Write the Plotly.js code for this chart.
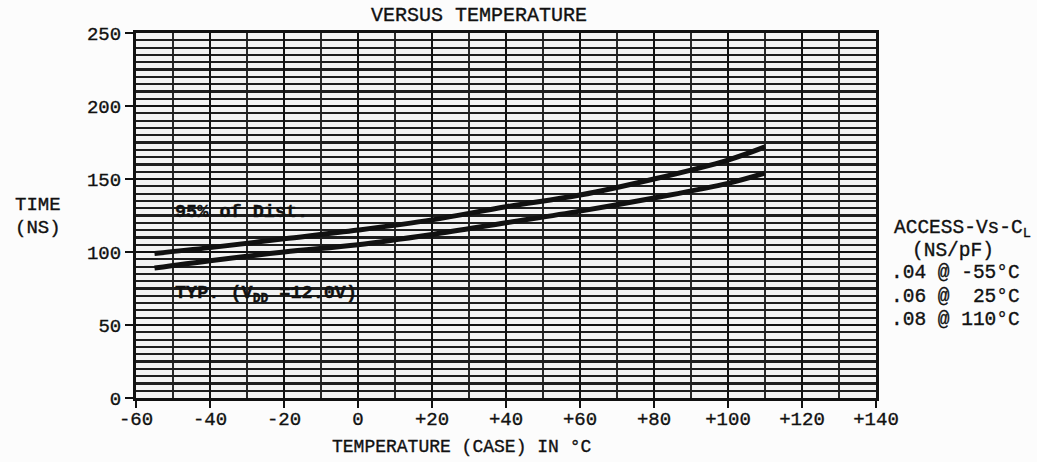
<!DOCTYPE html>
<html>
<head>
<meta charset="utf-8">
<script src="https://cdn.plot.ly/plotly-3.0.1.min.js"></script>
<style>
html,body{margin:0;padding:0;background:#fcfcfc;}
#chart{width:1037px;height:462px;}
#chart svg text{stroke:#111;stroke-width:0.35px;}
</style>
</head>
<body>
<div id="chart"></div>
<script>
// Temperature (case) in °C
const temps = [-55, -40, -20, 0, 20, 40, 60, 80, 100, 110];
// Access time (ns), "95% of Dist." curve
const dist95 = [99, 103, 109, 115, 122, 131, 139, 150, 163, 172];
// Access time (ns), typical curve (VDD = 12.0V)
const typical = [89, 94, 100, 105, 112, 120, 128, 137, 147, 154];

const xTickVals = [-60, -40, -20, 0, 20, 40, 60, 80, 100, 120, 140];
const xTickText = ['-60', '-40', '-20', '0', '+20', '+40', '+60', '+80', '+100', '+120', '+140'];
const yTickVals = [0, 50, 100, 150, 200, 250];

const FONT = 'Liberation Mono, Courier New, monospace';
const INK = '#111';

const traces = [
  {x: temps, y: dist95, mode: 'lines', line: {color: INK, width: 5, shape: 'spline'}, hoverinfo: 'skip'},
  {x: temps, y: typical, mode: 'lines', line: {color: INK, width: 5, shape: 'spline'}, hoverinfo: 'skip'}
];

function paperText(text, x, y, size, xanchor) {
  return {text: text, xref: 'paper', yref: 'paper', x: x, y: y, xanchor: xanchor || 'left', yanchor: 'middle',
          showarrow: false, align: 'left', font: {family: FONT, size: size || 19, color: INK}};
}

const layout = {
  width: 1037, height: 462, autosize: false,
  margin: {l: 136, r: 161, t: 33, b: 64},
  paper_bgcolor: '#fcfcfc', plot_bgcolor: '#f3f3f3',
  showlegend: false,
  font: {family: FONT, size: 19, color: INK},
  xaxis: {
    range: [-60, 140], tickvals: xTickVals, ticktext: xTickText,
    showgrid: true, gridcolor: '#111', gridwidth: 2.4,
    minor: {dtick: 10, tick0: 0, showgrid: true, gridcolor: '#2a2a2a', gridwidth: 1.3, ticks: ''},
    ticks: 'outside', ticklen: 7, tickwidth: 2, tickcolor: INK,
    ticklabelstandoff: -6,
    showline: true, mirror: true, linecolor: INK, linewidth: 3,
    zeroline: false, fixedrange: true,
    tickfont: {family: FONT, size: 19, color: INK}
  },
  yaxis: {
    range: [0, 250], tickvals: yTickVals,
    showgrid: true, gridcolor: '#111', gridwidth: 2.6,
    minor: {dtick: 5, tick0: 0, showgrid: true, gridcolor: '#1e1e1e', gridwidth: 2.2, ticks: ''},
    ticks: 'outside', ticklen: 8, tickwidth: 2, tickcolor: INK,
    showline: true, mirror: true, linecolor: INK, linewidth: 3,
    zeroline: false, fixedrange: true,
    tickfont: {family: FONT, size: 19, color: INK}
  },
  annotations: [
    paperText('VERSUS TEMPERATURE', 0.4635, 1.047, 20, 'center'),
    paperText('TEMPERATURE (CASE) IN °C', 0.4405, -0.134, 18, 'center'),
    paperText('TIME', -0.166, 0.529),
    paperText('(NS)', -0.166, 0.466),
    paperText('ACCESS-Vs-C<sub>L</sub>', 1.021, 0.463, 19.5),
    paperText('(NS/pF)', 1.046, 0.403, 19.5),
    paperText('.04 @ -55°C', 1.018, 0.342, 19.5),
    paperText('.06 @\u00A0\u00A025°C', 1.018, 0.277, 19.5),
    paperText('.08 @ 110°C', 1.018, 0.214, 19.5),
    {text: '<b>95% of Dist.</b>', x: -50, y: 127, xref: 'x', yref: 'y', xanchor: 'left', yanchor: 'middle',
     showarrow: false, font: {family: FONT, size: 18.5, color: INK}},
    {text: '<b>TYP. (V<sub>DD</sub> =12.0V)</b>', x: -50, y: 71, xref: 'x', yref: 'y', xanchor: 'left', yanchor: 'middle',
     showarrow: false, font: {family: FONT, size: 18.5, color: INK}}
  ]
};

Plotly.newPlot('chart', traces, layout, {displayModeBar: false, staticPlot: true});
</script>
</body>
</html>
